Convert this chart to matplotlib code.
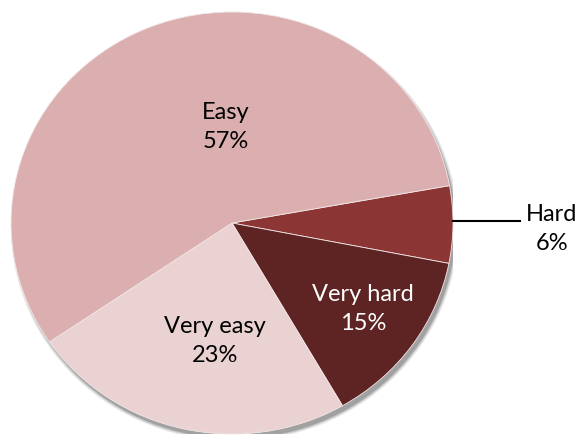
import matplotlib
matplotlib.use("Agg")
import matplotlib.pyplot as plt
from matplotlib.patches import Ellipse

labels = ["Hard", "Very hard", "Very easy", "Easy"]
# slice sizes as measured from the angles in the picture
shares = [5.9, 13.6, 23.8, 56.7]
pct_text = ["6%", "15%", "23%", "57%"]
colors = ["#8c3535", "#5e2424", "#ead2d2", "#dbafaf"]
text_colors = ["black", "white", "black", "black"]

W, H = 582, 447
fig = plt.figure(figsize=(W / 100, H / 100), dpi=100)
fig.patch.set_facecolor("white")

# pie sits in an axes a bit wider than it is tall (slightly squashed, like the original)
left, right, top, bottom = 11, 453, 12, 434
ax = fig.add_axes([left / W, 1 - bottom / H, (right - left) / W, (bottom - top) / H])

# soft drop shadow
for i, a in enumerate([0.12, 0.18, 0.30]):
    ax.add_patch(Ellipse((0.012, -0.022), 2.0 + 0.012 * (2 - i), 2.0 + 0.012 * (2 - i),
                         facecolor="#444444", edgecolor="none", alpha=a, zorder=0))

wedges, _ = ax.pie(shares, colors=colors, startangle=10.2, counterclock=False,
                   radius=1.0, wedgeprops=dict(edgecolor="#f3e6e6", linewidth=0.6,
                                               zorder=1))
ax.set_aspect("auto")
ax.set_xlim(-1.0, 1.0)
ax.set_ylim(-1.0, 1.0)
ax.axis("off")

# label centres in pixels (as placed in the original)
label_pos = [(552, 229), (363, 309), (215, 341), (226, 127)]


def px(x, y):
    return x / W, 1 - y / H


for lab, pct, (x, y), tc in zip(labels, pct_text, label_pos, text_colors):
    fx, fy = px(x, y)
    fig.text(fx, fy, lab + "\n" + pct, ha="center", va="center", color=tc,
             fontsize=17, family=["Lato", "DejaVu Sans"], linespacing=1.45)

# leader line for the small slice
x0, y0 = px(453, 221)
x1, y1 = px(520, 221)
fig.add_artist(plt.Line2D([x0, x1], [y0, y1], color="black", linewidth=1.5))

fig.savefig("out.png", dpi=100)
